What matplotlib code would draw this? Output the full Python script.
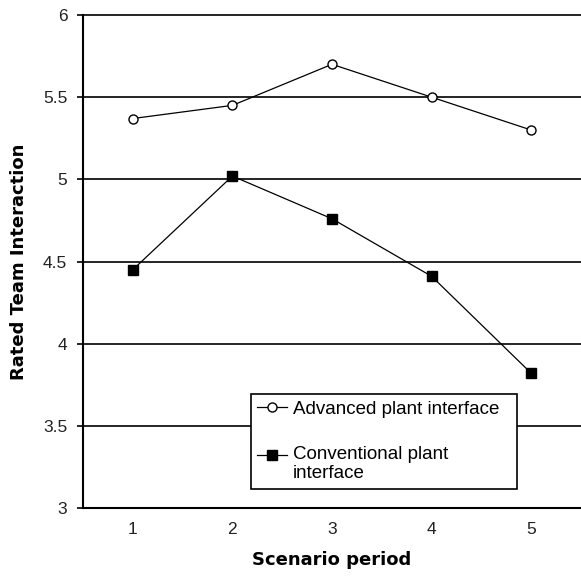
import matplotlib
matplotlib.use("Agg")
import matplotlib.pyplot as plt
from matplotlib.transforms import ScaledTranslation

# scenario periods and team interaction ratings
periods = [1, 2, 3, 4, 5]
advanced = [5.37, 5.45, 5.70, 5.50, 5.30]
conventional = [4.45, 5.02, 4.76, 4.41, 3.82]
y_ticks = [3, 3.5, 4, 4.5, 5, 5.5, 6]
y_labels = ["3", "3.5", "4", "4.5", "5", "5.5", "6"]

plt.rcParams['font.family'] = ['Liberation Sans', 'DejaVu Sans']

fig = plt.figure(figsize=(5.81, 5.76), dpi=100)
ax = fig.add_axes([83/581, 68/576, 498/581, 493/576])

ax.plot(periods, advanced, color='black', lw=0.9, marker='o', ms=6.5,
        mfc='white', mec='black', mew=1.0, label='Advanced plant interface')
ax.plot(periods, conventional, color='black', lw=0.9, marker='s', ms=7,
        mfc='black', mec='black', label='Conventional plant\ninterface')

ax.set_xlim(0.5, 5.5)
ax.set_ylim(3, 6)
ax.set_xticks(periods)
ax.set_yticks(y_ticks)
ax.set_yticklabels(y_labels)
ax.yaxis.grid(True, color='black', lw=1.2)
ax.set_axisbelow(True)
for gl in ax.get_ygridlines():
    gl.set_clip_on(False)  # keep the line at 6 full width

for s in ['top', 'right']:
    ax.spines[s].set_visible(False)
ax.spines['left'].set_linewidth(1.5)
ax.spines['bottom'].set_linewidth(1.5)
ax.tick_params(axis='y', length=4.3, width=1.2, pad=7, labelsize=12.5, labelcolor='#222222')
ax.tick_params(axis='x', length=0, pad=10, labelsize=12.5, labelcolor='#222222')

ax.set_xlabel('Scenario period', family='DejaVu Sans', fontweight='bold', fontsize=13, labelpad=10)
ax.set_ylabel('Rated Team Interaction', family='DejaVu Sans', fontweight='bold', fontsize=13, labelpad=11)

leg = ax.legend(loc='lower left', bbox_to_anchor=(0.337, 0.0385, 0.534, 0.195), mode='expand',
                fontsize=13.5, handlelength=1.6, handletextpad=0.3, labelspacing=1.5,
                borderpad=0.35, borderaxespad=0, fancybox=False, framealpha=1)
leg.get_frame().set_edgecolor('black')
leg.get_frame().set_linewidth(1.2)
# put the second handle on the first text line
h2 = leg.legend_handles[1]
h2.set_transform(h2.get_transform() + ScaledTranslation(0, 0.09, fig.dpi_scale_trans))

fig.savefig('out.png', dpi=100)
